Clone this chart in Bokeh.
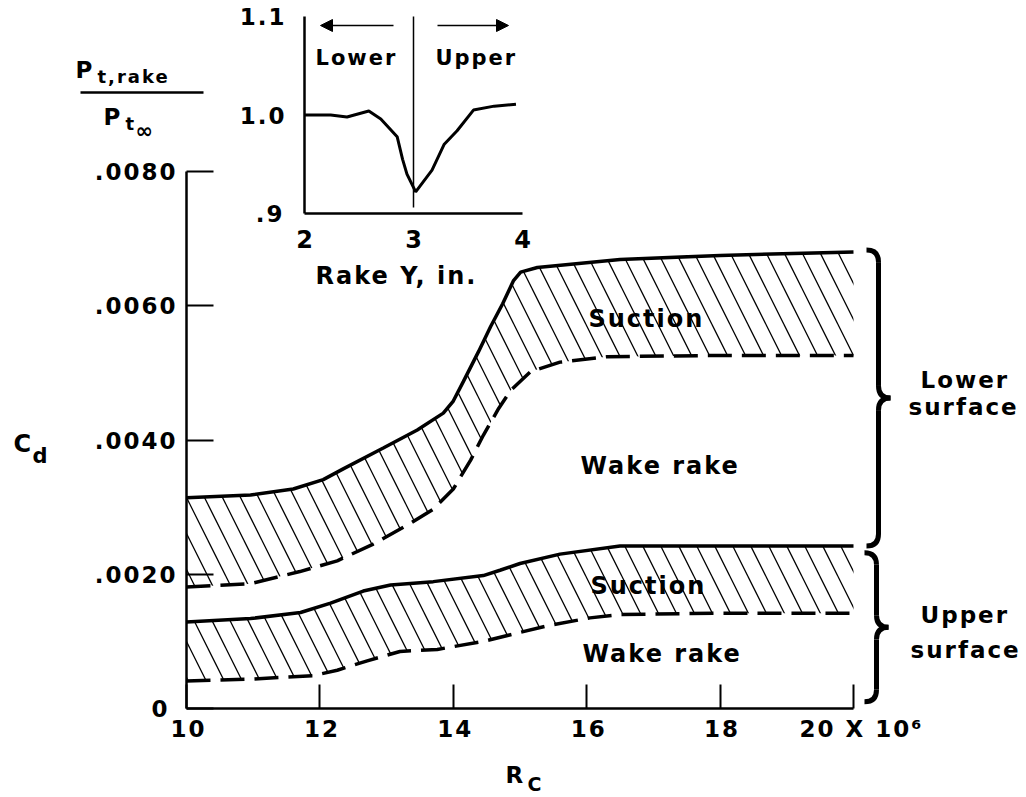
from bokeh.plotting import figure
from bokeh.models import FixedTicker, Label, Arrow, NormalHead, Range1d, LinearAxis
from bokeh.embed import file_html
from bokeh.resources import INLINE

# ---------------- data ----------------
# main chart: section drag coefficient vs chord Reynolds number (x 10^6)
x_ticks = [10, 12, 14, 16, 18, 20]
y_ticks = [0.0, 0.002, 0.004, 0.006, 0.008]
y_tick_labels = ["0", ".0020", ".0040", ".0060", ".0080"]
x_last_label = "20 X 10\u2076"

# lower surface, suction (solid) and wake rake (dashed)
rc_lower_suction = [10.0, 10.96, 11.6, 12.05, 12.35, 12.95, 13.46, 13.85, 14.0, 14.15,
                    14.38, 14.56, 14.74, 14.9, 15.01, 15.26, 16.5, 18.0, 20.0]
cd_lower_suction = [0.00314, 0.00318, 0.00327, 0.00341, 0.00357, 0.00388, 0.00415, 0.00440,
                    0.00458, 0.00487, 0.00532, 0.00569, 0.00603, 0.00637, 0.00650, 0.00657,
                    0.00669, 0.00675, 0.00680]
rc_lower_wake = [10.0, 10.96, 11.7, 12.26, 12.8, 13.36, 13.7, 14.0, 14.26, 14.45, 14.68,
                 14.86, 15.16, 15.6, 16.3, 18.0, 20.0]
cd_lower_wake = [0.00181, 0.00186, 0.00204, 0.00220, 0.00245, 0.00276, 0.00297, 0.00327,
                 0.00370, 0.00407, 0.00447, 0.00474, 0.00502, 0.00516, 0.00524, 0.00526,
                 0.00526]

# upper surface, suction (solid) and wake rake (dashed)
rc_upper_suction = [10.0, 10.96, 11.71, 12.16, 12.65, 13.06, 13.7, 14.45, 14.7, 15.0, 15.6,
                    16.5, 18.0, 20.0]
cd_upper_suction = [0.00129, 0.00134, 0.00143, 0.00157, 0.00175, 0.00184, 0.00189, 0.00198,
                    0.00206, 0.00216, 0.00230, 0.00242, 0.00242, 0.00242]
rc_upper_wake = [10.0, 11.0, 11.9, 12.26, 12.71, 13.2, 13.76, 14.45, 15.4, 16.05, 16.5,
                 18.0, 20.0]
cd_upper_wake = [0.00041, 0.00044, 0.00049, 0.00057, 0.00071, 0.00085, 0.00088, 0.00100,
                 0.00123, 0.00135, 0.00140, 0.00142, 0.00142]

# inset: rake total-pressure ratio across the wake
inset_x_ticks = [2, 3, 4]
inset_y_ticks = [0.9, 1.0, 1.1]
inset_y_labels = [".9", "1.0", "1.1"]
rake_y = [2.0, 2.24, 2.39, 2.59, 2.70, 2.85, 2.90, 2.94, 3.02, 3.17, 3.28, 3.40, 3.55,
          3.74, 3.94]
pt_ratio = [1.000, 1.000, 0.998, 1.004, 0.996, 0.978, 0.955, 0.940, 0.922, 0.944, 0.970,
            0.984, 1.005, 1.009, 1.011]

# ---------------- layout helpers (page pixels -> coordinates) ----------------
FONT = "DejaVu Sans"
W, H = 1024, 796


def MX(px):  # main x scale: 10 at 186 px, 20 at 853 px
    return 10 + (px - 186) / 66.7


def MY(py):  # main y scale: 0 at 708 px, .0080 at 171 px
    return (708 - py) / 67125.0


def IX(px):  # inset x scale: 2 at 304 px, 4 at 522 px
    return 2 + (px - 304) / 109.0


def IY(py):  # inset y scale: 1.1 at 16 px, .9 at 213 px
    return 1.1 - (py - 16) / 985.0


def txt(fig, text, left, base, size, inset=False):
    """left edge / baseline in page pixels"""
    b = base - 0.38 * size
    if inset:
        fig.add_layout(Label(x=IX(left), y=IY(b), text=text, x_range_name="ix",
                             y_range_name="iy", text_font=FONT, text_font_style="bold",
                             text_font_size=f"{size}px", text_color="black",
                             text_align="left", text_baseline="alphabetic"))
    else:
        fig.add_layout(Label(x=MX(left), y=MY(b), text=text, text_font=FONT,
                             text_font_style="bold", text_font_size=f"{size}px",
                             text_color="black", text_align="left",
                             text_baseline="alphabetic"))


def style_axis(ax, size="23px"):
    ax.axis_line_width = 2.5
    ax.axis_line_color = "black"
    ax.minor_tick_line_color = None
    ax.major_label_text_font = FONT
    ax.major_label_text_font_style = "bold"
    ax.major_label_text_font_size = size
    ax.major_label_text_color = "black"


# one canvas; the frame fills it, axes sit at fixed data locations
p = figure(width=W, height=H,
           x_range=Range1d(MX(0), MX(W)), y_range=Range1d(MY(H), MY(0)),
           output_backend="svg", toolbar_location=None,
           min_border_left=0, min_border_right=0, min_border_top=0, min_border_bottom=0)
p.stylesheets = [":host { letter-spacing: 2px; }"]
p.grid.visible = False
p.outline_line_color = None

# inset coordinate system
p.extra_x_ranges = {"ix": Range1d(IX(0), IX(W))}
p.extra_y_ranges = {"iy": Range1d(IY(H), IY(0))}

hatch = dict(fill_alpha=0, line_alpha=0, hatch_pattern="\\", hatch_scale=36,
             hatch_weight=1.3, hatch_color="black")
p.patch(rc_lower_suction + rc_lower_wake[::-1], cd_lower_suction + cd_lower_wake[::-1],
        **hatch)
p.patch(rc_upper_suction + rc_upper_wake[::-1], cd_upper_suction + cd_upper_wake[::-1],
        **hatch)

p.line(rc_lower_suction, cd_lower_suction, line_width=3.5, line_color="black")
p.line(rc_upper_suction, cd_upper_suction, line_width=3.5, line_color="black")
p.line(rc_lower_wake, cd_lower_wake, line_width=3.5, line_color="black", line_dash="24 10")
p.line(rc_upper_wake, cd_upper_wake, line_width=3.5, line_color="black", line_dash="24 10")

# main axes
xa = p.xaxis[0]
ya = p.yaxis[0]
xa.fixed_location = y_ticks[0]
ya.fixed_location = x_ticks[0]
xa.ticker = FixedTicker(ticks=x_ticks)
xa.major_label_overrides = {x_ticks[-1]: x_last_label}
ya.ticker = FixedTicker(ticks=y_ticks)
ya.major_label_overrides = dict(zip(y_ticks, y_tick_labels))
xa.bounds = (x_ticks[0], x_ticks[-1])
ya.bounds = (y_ticks[0], y_ticks[-1])
for ax in (xa, ya):
    style_axis(ax)
    ax.major_tick_line_width = 2
    ax.major_tick_line_color = "black"
    ax.major_tick_out = 0
xa.major_tick_in = 24
ya.major_tick_in = 27
xa.major_label_standoff = 7
ya.major_label_standoff = 19


# braces for lower / upper surface
def brace(fig, xs, ya_, yb, dxh=0.18, dxt=0.18, dy=0.00018):
    ym = (ya_ + yb) / 2
    fig.quadratic(x0=[xs - dxh, xs, xs, xs], y0=[yb, ym + dy, ym - dy, ya_ + dy],
                  x1=[xs, xs + dxt, xs + dxt, xs - dxh], y1=[yb - dy, ym, ym, ya_],
                  cx=[xs, xs, xs, xs], cy=[yb, ym, ym, ya_],
                  line_width=5, line_color="black")
    fig.segment(x0=[xs, xs], y0=[yb - dy, ym - dy], x1=[xs, xs], y1=[ym + dy, ya_ + dy],
                line_width=5, line_color="black")


brace(p, MX(878), cd_upper_suction[-1], cd_lower_suction[-1] + 0.00003)
brace(p, MX(876), 0.0001, cd_upper_suction[-1] - 0.0001)

# region labels
txt(p, "Suction", 588, 328, 24)
txt(p, "Wake rake", 580, 475, 24)
txt(p, "Suction", 590, 595, 24)
txt(p, "Wake rake", 582, 663, 24)
txt(p, "Lower", 920, 388, 23)
txt(p, "surface", 908, 415, 23)
txt(p, "Upper", 920, 623, 23)
txt(p, "surface", 910, 658, 23)

# axis titles C_d and R_C
txt(p, "C", 13, 453, 24)
txt(p, "d", 32, 463, 21)
txt(p, "R", 505, 783, 23)
txt(p, "C", 527, 791, 19)

# fraction P_t,rake / P_t_inf
txt(p, "P", 75, 78, 23)
txt(p, "t,rake", 97, 83, 18)
p.add_layout(Arrow(x_start=MX(80), y_start=MY(92), x_end=MX(203), y_end=MY(92),
                   start=None, end=None, line_width=2.5, line_color="black"))
txt(p, "P", 103, 125, 23)
txt(p, "t", 125, 130, 18)
txt(p, "\u221e", 135, 138, 21)

# ---------------- inset ----------------
IR = dict(x_range_name="ix", y_range_name="iy")
p.line(rake_y, pt_ratio, line_width=3, line_color="black", **IR)
p.segment(x0=[inset_x_ticks[1]], y0=[IY(207)], x1=[inset_x_ticks[1]], y1=[inset_y_ticks[-1]],
          line_width=1.5, line_color="black", **IR)

ixa = LinearAxis(fixed_location=inset_y_ticks[0], bounds=(inset_x_ticks[0], inset_x_ticks[-1]),
                 ticker=FixedTicker(ticks=inset_x_ticks), **IR)
iya = LinearAxis(fixed_location=inset_x_ticks[0], bounds=(inset_y_ticks[0], inset_y_ticks[-1]),
                 ticker=FixedTicker(ticks=inset_y_ticks),
                 major_label_overrides=dict(zip(inset_y_ticks, inset_y_labels)), **IR)
for ax in (ixa, iya):
    style_axis(ax)
    ax.major_tick_line_color = None
ixa.major_label_text_font_size = "24px"
ixa.major_label_standoff = 10
iya.major_label_standoff = 18
p.add_layout(ixa, "below")
p.add_layout(iya, "left")

head = dict(size=12, fill_color="black", line_color="black")
p.add_layout(Arrow(x_start=IX(393), y_start=IY(25), x_end=IX(320), y_end=IY(25),
                   end=NormalHead(**head), line_width=1.5, line_color="black", **IR))
p.add_layout(Arrow(x_start=IX(437), y_start=IY(25), x_end=IX(508), y_end=IY(25),
                   end=NormalHead(**head), line_width=1.5, line_color="black", **IR))
txt(p, "Lower", 315, 65, 21, inset=True)
txt(p, "Upper", 435, 65, 21, inset=True)
txt(p, "Rake Y, in.", 315, 285, 24, inset=True)

open("out.html", "w").write(file_html(p, INLINE))
